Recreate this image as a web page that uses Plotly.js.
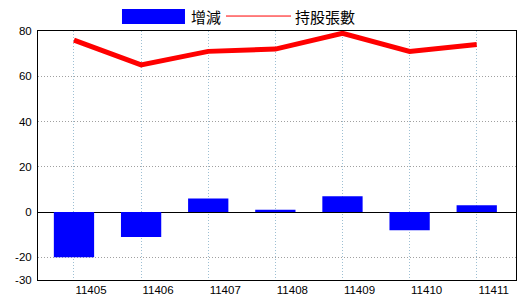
<!DOCTYPE html>
<html>
<head>
<meta charset="utf-8">
<script src="https://cdn.plot.ly/plotly-3.0.1.min.js"></script>
<style>html,body{margin:0;padding:0;background:#fff;}#chart{width:520px;height:300px;}</style>
</head>
<body>
<div id="chart"></div>
<script>
var categories = ["11405", "11406", "11407", "11408", "11409", "11410", "11411"];
var changeValues = [-20, -11, 6, 1, 7, -8, 3];
var holdingValues = [76, 65, 71, 72, 79, 71, 74];
var yTickVals = [80, 60, 40, 20, 0, -20, -30];
var seriesNames = ["增減", "持股張數"];

var traces = [
  {
    type: "bar",
    x: categories,
    y: changeValues,
    name: seriesNames[0],
    marker: {color: "#0000FF", line: {width: 0}},
    width: 0.6,
    showlegend: false
  },
  {
    type: "scatter",
    mode: "lines",
    x: categories,
    y: holdingValues,
    name: seriesNames[1],
    line: {color: "#FF0000", width: 5},
    showlegend: false
  }
];

var layout = {
  width: 520,
  height: 300,
  margin: {l: 38, r: 4, t: 31, b: 20, pad: 0},
  paper_bgcolor: "#FFFFFF",
  plot_bgcolor: "#FFFFFF",
  font: {family: "Liberation Sans, Arial, sans-serif", size: 11, color: "#000000"},
  xaxis: {
    type: "category",
    range: [-0.536, 6.585],
    showgrid: true,
    gridcolor: "#9DBFD3",
    griddash: "1px,2px",
    gridwidth: 1,
    showline: true,
    linecolor: "#000000",
    linewidth: 1,
    mirror: true,
    ticks: "",
    ticklabelstandoff: -1,
    ticklabelshift: 17,
    tickfont: {size: 11.5, color: "#000000"},
    zeroline: false,
    fixedrange: true
  },
  yaxis: {
    range: [-30, 80],
    tickmode: "array",
    tickvals: yTickVals,
    ticktext: yTickVals.map(String),
    showgrid: true,
    gridcolor: "#A0A0A0",
    griddash: "1px,2px",
    gridwidth: 1,
    showline: true,
    linecolor: "#000000",
    linewidth: 1,
    mirror: true,
    ticks: "",
    ticklabelstandoff: 3,
    tickfont: {size: 11.5, color: "#000000"},
    zeroline: true,
    zerolinecolor: "#000000",
    zerolinewidth: 1,
    fixedrange: true
  },
  bargap: 0.4,
  showlegend: false,
  shapes: [
    {type: "rect", xref: "paper", yref: "paper", x0: 0.1757, x1: 0.3075, y0: 1.0281, y1: 1.0882,
     fillcolor: "#0000FF", line: {width: 0}},
    {type: "line", xref: "paper", yref: "paper", x0: 0.3933, x1: 0.5293, y0: 1.0601, y1: 1.0601,
     line: {color: "#FF0000", width: 1}}
  ],
  annotations: [
    {xref: "paper", yref: "paper", x: 0.3159, y: 1.0601, xanchor: "left", yanchor: "middle",
     text: seriesNames[0], showarrow: false, font: {family: "Noto Sans CJK TC", size: 15, color: "#000000"}},
    {xref: "paper", yref: "paper", x: 0.5335, y: 1.0601, xanchor: "left", yanchor: "middle",
     text: seriesNames[1], showarrow: false, font: {family: "Noto Sans CJK TC", size: 15, color: "#000000"}}
  ]
};

Plotly.newPlot("chart", traces, layout, {displayModeBar: false, staticPlot: true});
</script>
</body>
</html>
